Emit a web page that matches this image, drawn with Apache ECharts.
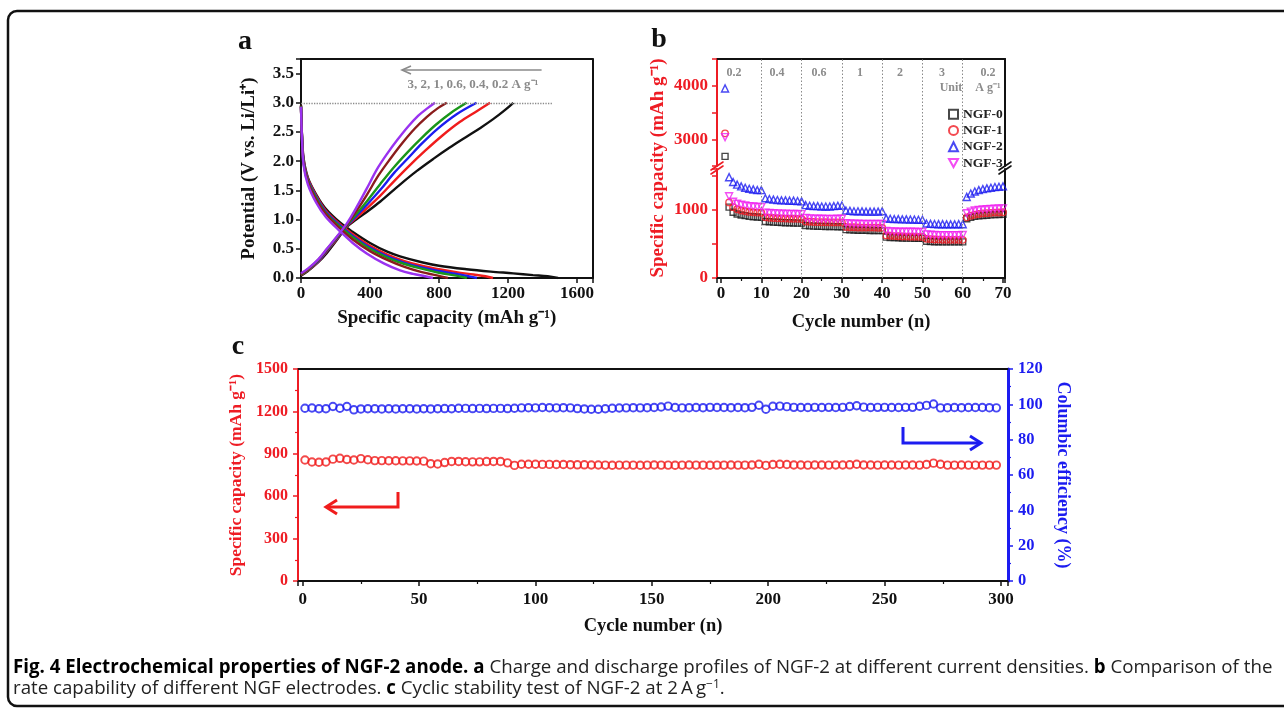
<!DOCTYPE html>
<html><head><meta charset="utf-8">
<script src="https://cdn.jsdelivr.net/npm/echarts@6/dist/echarts.min.js"></script>
<style>html,body{margin:0;padding:0;background:#fff}#c{width:1284px;height:715px}</style>
</head><body><div id="c"></div>
<script>
// ---------------- Panel a: charge / discharge profiles (capacity mAh/g, potential V) ----------------
const rateLabelsA = ['0.2', '0.4', '0.6', '1', '2', '3'];
const rateColorsA = ['#111111', '#f01c1c', '#1c1cf0', '#1a961a', '#8a1c1c', '#9a32f0'];
const charge_0_2 = [[0,0.04],[40,0.12],[100,0.27],[150,0.43],[200,0.62],[265,0.87],[320,1.0],[381,1.13],[460,1.31],[574,1.6],[670,1.83],[767,2.04],[860,2.23],[960,2.42],[1040,2.57],[1114,2.72],[1180,2.87],[1231,3.0]];
const charge_0_4 = [[0,0.05],[40,0.13],[100,0.28],[150,0.46],[200,0.64],[265,0.88],[320,1.03],[381,1.19],[460,1.41],[540,1.66],[620,1.9],[720,2.18],[820,2.44],[920,2.67],[1010,2.84],[1096,3.0]];
const charge_0_6 = [[0,0.06],[40,0.14],[100,0.29],[150,0.47],[200,0.65],[265,0.89],[320,1.06],[381,1.25],[460,1.51],[540,1.8],[620,2.05],[700,2.3],[790,2.55],[900,2.8],[1018,3.0]];
const charge_1 = [[0,0.06],[40,0.14],[100,0.3],[150,0.48],[200,0.66],[265,0.9],[320,1.09],[381,1.31],[460,1.61],[540,1.9],[620,2.16],[700,2.4],[780,2.62],[870,2.83],[960,3.0]];
const charge_2 = [[0,0.07],[40,0.15],[100,0.31],[150,0.49],[200,0.67],[265,0.91],[320,1.14],[381,1.42],[450,1.76],[520,2.05],[590,2.32],[660,2.56],[730,2.76],[790,2.9],[845,3.0]];
const charge_3 = [[0,0.08],[40,0.16],[100,0.32],[150,0.5],[200,0.68],[265,0.93],[320,1.2],[381,1.53],[440,1.86],[500,2.13],[560,2.37],[620,2.59],[680,2.78],[730,2.9],[777,3.0]];
const discharge_0_2 = [[0,2.96],[5,2.5],[15,2.05],[40,1.72],[90,1.42],[145,1.18],[226,0.95],[300,0.79],[400,0.6],[500,0.45],[574,0.37],[700,0.27],[800,0.21],[960,0.15],[1100,0.11],[1230,0.08],[1345,0.05],[1430,0.03],[1490,0.0]];
const discharge_0_4 = [[0,2.95],[5,2.48],[15,2.02],[40,1.7],[90,1.4],[145,1.15],[226,0.92],[300,0.75],[400,0.55],[500,0.4],[600,0.29],[700,0.21],[800,0.15],[900,0.1],[1000,0.06],[1070,0.03],[1113,0.0]];
const discharge_0_6 = [[0,2.94],[5,2.47],[15,2.0],[40,1.68],[90,1.38],[145,1.13],[226,0.9],[300,0.72],[400,0.52],[500,0.37],[600,0.26],[700,0.18],[800,0.12],[900,0.07],[970,0.03],[1020,0.0]];
const discharge_1 = [[0,2.94],[5,2.46],[15,1.98],[40,1.66],[90,1.36],[145,1.11],[226,0.88],[300,0.7],[400,0.5],[500,0.35],[600,0.24],[700,0.16],[800,0.09],[900,0.04],[962,0.0]];
const discharge_2 = [[0,2.93],[5,2.45],[15,1.96],[40,1.64],[90,1.33],[145,1.09],[226,0.85],[300,0.66],[400,0.46],[500,0.31],[600,0.19],[700,0.1],[780,0.05],[852,0.0]];
const discharge_3 = [[0,2.93],[5,2.43],[15,1.93],[40,1.6],[90,1.28],[145,1.04],[226,0.8],[300,0.6],[381,0.42],[480,0.25],[574,0.13],[650,0.07],[720,0.03],[765,0.0]];
const chargeCurvesA = [charge_0_2, charge_0_4, charge_0_6, charge_1, charge_2, charge_3];
const dischargeCurvesA = [discharge_0_2, discharge_0_4, discharge_0_6, discharge_1, discharge_2, discharge_3];
const cutoffVoltage = 3.0;
const cutoffLineEnd = 1460;
const xTicksA = [0, 400, 800, 1200, 1600];

// ---------------- Panel b: rate capability ----------------
const cycleB = Array.from({length: 70}, (_, i) => i + 1);
const ngf0 = [2680, 1040,965,940,925,915,905,900,895,890,
  830,825,820,818,815,812,810,808,806,805,
  770,765,762,760,758,756,755,754,752,752,
  710,706,704,702,700,700,698,698,696,696,
  600,595,592,590,588,586,585,584,583,582,
  540,535,533,532,531,530,530,530,530,530,
  870,890,905,912,918,922,926,930,932,935];
const ngf1 = [3110, 1110,1040,1010,990,980,970,965,960,958,
  890,885,880,878,875,872,870,870,868,866,
  830,825,822,820,818,818,816,816,816,816,
  750,746,744,742,740,740,740,740,738,738,
  625,620,615,612,610,608,606,605,604,603,
  575,570,566,564,562,560,560,560,560,560,
  890,915,930,940,948,952,956,960,962,965];
const ngf2 = [3950, 1480,1410,1370,1345,1325,1310,1300,1290,1290,
  1170,1160,1150,1145,1140,1140,1135,1135,1130,1125,
  1070,1060,1055,1055,1050,1050,1050,1055,1060,1065,
  990,985,980,980,978,975,975,975,975,980,
  875,870,865,865,860,860,858,858,855,855,
  800,795,792,790,790,788,788,788,790,790,
  1190,1240,1270,1290,1305,1315,1325,1335,1340,1345];
const ngf3 = [3040, 1200,1120,1090,1075,1065,1055,1050,1045,1040,
  960,955,950,948,945,945,942,940,940,938,
  880,875,872,870,870,868,868,868,870,870,
  805,800,798,796,795,795,795,795,795,795,
  690,685,682,680,680,678,678,678,676,676,
  640,635,632,630,630,630,630,630,630,632,
  950,975,990,1000,1005,1010,1015,1018,1020,1022];
const ngfNames = ['NGF-0', 'NGF-1', 'NGF-2', 'NGF-3'];
const ngfColors = ['#1a1a1a', '#f01c24', '#1c1cf0', '#f020f0'];
const stepBoundaries = [10, 20, 30, 40, 50, 60];
const rateStepLabels = ['0.2', '0.4', '0.6', '1', '2', '3', '0.2'];
const breakLow = 1600, breakHigh = 2500;

// ---------------- Panel c: cycling at 2 A/g ----------------
const cycleC = Array.from({length: 100}, (_, i) => 1 + 3 * i);
const capacityC = [856,842,840,842,862,868,860,856,866,858,
  852,852,851,851,850,850,849,848,830,828,
  838,846,846,844,843,843,845,846,846,836,
  818,826,826,826,825,825,824,824,823,822,
  822,821,821,820,819,820,820,820,819,820,
  821,820,820,819,820,821,820,820,819,820,
  820,821,820,820,821,826,818,824,826,824,
  821,821,820,821,821,820,821,821,822,826,
  821,821,820,821,821,820,821,821,820,824,
  834,826,820,820,821,820,820,820,820,820];
const efficiencyC = [97.8,97.9,97.5,97.5,98.8,97.8,98.8,96.9,97.4,97.5,
  97.5,97.4,97.5,97.4,97.5,97.5,97.4,97.5,97.4,97.5,
  97.6,97.5,97.8,97.7,97.6,97.7,97.6,97.7,97.7,97.6,
  97.8,98.0,98.1,98.0,98.2,98.1,98.0,98.1,98.0,97.6,
  97.4,97.2,97.2,97.5,97.8,97.9,98.0,98.1,98.0,98.1,
  98.2,98.5,99.0,98.2,98.0,98.1,98.2,98.1,98.3,98.2,
  98.2,98.1,98.2,98.1,98.3,99.5,97.2,98.9,99.0,98.7,
  98.3,98.2,98.2,98.3,98.2,98.3,98.2,98.3,98.8,99.2,
  98.4,98.2,98.3,98.3,98.2,98.2,98.3,98.3,98.9,99.4,
  100.2,98.0,98.1,98.2,98.1,98.2,98.2,98.2,98.1,98.0];

// ---------------- styles ----------------
const SERIF = 'Liberation Serif';
const RED = '#ee1c24', BLUE = '#1c1cf0', INK = '#111111', GRAYTXT = '#8c8c8c';
const lbl = (color, size, extra) => Object.assign({fontFamily: SERIF, fontWeight: 'bold', fontSize: size, color: color}, extra || {});
function frameAxis(grid, pos, color, width) {
  return {type: 'value', gridIndex: grid, position: pos, min: 0, max: 1,
    axisLine: {show: true, onZero: false, lineStyle: {color: color || INK, width: width || 2}},
    axisTick: {show: false}, axisLabel: {show: false}, splitLine: {show: false}};
}
const tick = (color) => ({show: true, inside: false, length: 5, lineStyle: {color: color, width: 1.5}});
const minor = (color, n) => ({show: true, splitNumber: n, length: 3, lineStyle: {color: color, width: 1.2}});

const xAxis = [
  {type: 'value', gridIndex: 0, min: 0, max: 1690, interval: 400,
   axisLine: {onZero: false, lineStyle: {color: INK, width: 2}}, axisTick: tick(INK),
   axisLabel: lbl(INK, 17, {margin: 7, formatter: v => xTicksA.includes(v) ? String(v) : ''}),
   splitLine: {show: false},
   name: 'Specific capacity (mAh g\u207B\u00B9)', nameLocation: 'middle', nameGap: 31, nameTextStyle: lbl(INK, 19)},
  frameAxis(0, 'top'),
  {type: 'value', gridIndex: 1, min: -1, max: 70.5, show: false, splitLine: {show: false}},
  frameAxis(1, 'top'),
  {type: 'value', gridIndex: 2, min: -1, max: 70.5, splitNumber: 7,
   axisLine: {onZero: false, lineStyle: {color: INK, width: 2}}, axisTick: tick(INK), minorTick: minor(INK, 2),
   axisLabel: lbl(INK, 17, {margin: 7, formatter: v => (v >= 0 && v % 10 === 0) ? String(v) : ''}),
   splitLine: {show: false},
   name: 'Cycle number (n)', nameLocation: 'middle', nameGap: 35, nameTextStyle: lbl(INK, 18.5)},
  {type: 'value', gridIndex: 3, min: -2, max: 303, splitNumber: 6,
   axisLine: {onZero: false, lineStyle: {color: INK, width: 2}}, axisTick: tick(INK), minorTick: minor(INK, 2),
   axisLabel: lbl(INK, 17, {margin: 10, formatter: v => (v >= 0 && v % 50 === 0) ? String(v) : ''}),
   splitLine: {show: false},
   name: 'Cycle number (n)', nameLocation: 'middle', nameGap: 36, nameTextStyle: lbl(INK, 18.5)},
  frameAxis(3, 'top')
];

const yAxis = [
  {type: 'value', gridIndex: 0, min: 0, max: 3.75, interval: 0.5,
   axisLine: {onZero: false, lineStyle: {color: INK, width: 2}}, axisTick: tick(INK),
   axisLabel: lbl(INK, 17, {margin: 7, formatter: v => (Math.abs(v * 2 - Math.round(v * 2)) < 1e-6) ? v.toFixed(1) : ''}),
   splitLine: {show: false},
   name: 'Potential (V vs. Li/Li\u207A)', nameLocation: 'middle', nameGap: 42, nameTextStyle: lbl(INK, 19)},
  frameAxis(0, 'right'),
  {type: 'value', gridIndex: 1, min: breakHigh, max: 4500, interval: 500,
   axisLine: {onZero: false, lineStyle: {color: RED, width: 2}}, axisTick: tick(RED),
   axisLabel: lbl(RED, 17, {margin: 9, formatter: v => (v % 1000 === 0) ? String(v) : ''}),
   splitLine: {show: false}},
  frameAxis(1, 'right'),
  {type: 'value', gridIndex: 2, min: 0, max: breakLow, interval: 500,
   axisLine: {onZero: false, lineStyle: {color: RED, width: 2}}, axisTick: tick(RED),
   axisLabel: lbl(RED, 17, {margin: 9, formatter: v => (v % 1000 === 0) ? String(v) : ''}),
   splitLine: {show: false}},
  frameAxis(2, 'right'),
  {type: 'value', gridIndex: 3, min: 0, max: 1500, interval: 300,
   axisLine: {onZero: false, lineStyle: {color: RED, width: 2}}, axisTick: tick(RED), minorTick: minor(RED, 2),
   axisLabel: lbl(RED, 16, {margin: 10, formatter: v => String(v)}), splitLine: {show: false},
   name: 'Specific capacity (mAh g\u207B\u00B9)', nameLocation: 'middle', nameGap: 51, nameTextStyle: lbl(RED, 17.5)},
  {type: 'value', gridIndex: 3, position: 'right', min: 0, max: 120, interval: 20,
   axisLine: {onZero: false, lineStyle: {color: BLUE, width: 3}}, axisTick: tick(BLUE), minorTick: minor(BLUE, 2),
   axisLabel: lbl(BLUE, 16.5, {margin: 10, formatter: v => String(v)}), splitLine: {show: false},
   name: 'Columbic efficiency (%)', nameLocation: 'middle', nameGap: 45, nameRotate: -90, nameTextStyle: lbl(BLUE, 18)}
];

const series = [];
rateLabelsA.forEach((r, i) => {
  series.push({type: 'line', name: 'discharge ' + r, xAxisIndex: 0, yAxisIndex: 0, data: dischargeCurvesA[i],
    showSymbol: false, smooth: 0.35, lineStyle: {color: rateColorsA[i], width: 2.4}, itemStyle: {color: rateColorsA[i]}, z: 3});
  const s = {type: 'line', name: 'charge ' + r, xAxisIndex: 0, yAxisIndex: 0, data: chargeCurvesA[i],
    showSymbol: false, smooth: 0.35, lineStyle: {color: rateColorsA[i], width: 2.4}, itemStyle: {color: rateColorsA[i]}, z: 3};
  if (i === 0) {
    s.markLine = {silent: true, symbol: 'none', label: {show: false},
      lineStyle: {type: 'dotted', color: '#8a8a8a', width: 1.3},
      data: [[{coord: [0, cutoffVoltage]}, {coord: [cutoffLineEnd, cutoffVoltage]}]]};
  }
  series.push(s);
});
const ngfValues = [ngf0, ngf1, ngf2, ngf3];
const ngfSymbols = ['rect', 'circle', 'triangle', 'path://M0,0L10,0L5,9Z'];
const ngfSizes = [6, 6.5, 7, 7];
ngfNames.forEach((nm, k) => {
  const vals = ngfValues[k];
  const lower = cycleB.map((c, i) => vals[i] <= breakLow ? [c, vals[i]] : null).filter(Boolean);
  const upper = cycleB.map((c, i) => vals[i] >= breakHigh ? [c, vals[i]] : null).filter(Boolean);
  const common = {type: 'scatter', name: nm, symbol: ngfSymbols[k], symbolSize: ngfSizes[k],
    itemStyle: {color: 'rgba(255,255,255,0)', borderColor: ngfColors[k], borderWidth: 1.4}, z: 4};
  const lo = Object.assign({}, common, {xAxisIndex: 4, yAxisIndex: 4, data: lower});
  const up = Object.assign({}, common, {xAxisIndex: 2, yAxisIndex: 2, data: upper});
  if (k === 0) {
    const ml = {silent: true, symbol: 'none', label: {show: false},
      lineStyle: {type: [1.5, 2], color: '#8a8a8a', width: 1},
      data: stepBoundaries.map(b => ({xAxis: b}))};
    lo.markLine = ml; up.markLine = JSON.parse(JSON.stringify(ml));
  }
  series.push(lo, up);
});
series.push({type: 'scatter', name: 'capacity', xAxisIndex: 5, yAxisIndex: 6,
  data: cycleC.map((c, i) => [c, capacityC[i]]), symbol: 'circle', symbolSize: 7.5,
  itemStyle: {color: 'rgba(255,255,255,0)', borderColor: '#f01c1c', borderWidth: 1.9}});
series.push({type: 'scatter', name: 'efficiency', xAxisIndex: 5, yAxisIndex: 7,
  data: cycleC.map((c, i) => [c, efficiencyC[i]]), symbol: 'circle', symbolSize: 7.5,
  itemStyle: {color: 'rgba(255,255,255,0)', borderColor: '#1c1cf0', borderWidth: 1.9}});

const serifFont = (size) => ({fontFamily: SERIF, fontWeight: 'bold', fontSize: size});
function txt(x, y, text, color, size, align, rot) {
  return {type: 'text', x: x, y: y, rotation: rot || 0, z: 10,
    style: Object.assign({text: text, fill: color, align: align || 'center', verticalAlign: 'middle',
      textAlign: align || 'center', textVerticalAlign: 'middle'}, serifFont(size))};
}
function seg(x1, y1, x2, y2, color, w) {
  return {type: 'line', z: 10, shape: {x1: x1, y1: y1, x2: x2, y2: y2}, style: {stroke: color, lineWidth: w, lineCap: 'round'}};
}
function poly(points, color, w) {
  return {type: 'polyline', z: 10, shape: {points: points}, style: {stroke: color, lineWidth: w, fill: null, lineJoin: 'miter'}};
}
const rateLabelX = [734, 777, 819, 860, 900, 942, 988];
const CAP = 18.7;
const graphic = [
  {type: 'rect', z: 0, shape: {x: 8, y: 11, width: 1300, height: 695, r: 9}, style: {stroke: '#111', lineWidth: 2.5, fill: null}},
  txt(245, 42, 'a', '#111', 28),
  txt(659, 40, 'b', '#111', 28),
  txt(238, 347, 'c', '#111', 28),
  seg(541, 70, 403, 70, '#8a8a8a', 1.6),
  poly([[411, 66], [402, 70], [411, 74]], '#8a8a8a', 1.6),
  txt(473, 85, '3, 2, 1, 0.6, 0.4, 0.2 A g\u207B\u00B9', '#8a8a8a', 13),
  txt(658, 168, 'Specific capacity (mAh g\u207B\u00B9)', RED, 19, 'center', Math.PI / 2),
  seg(711, 170, 723, 162, RED, 1.6), seg(711, 174, 723, 166, RED, 1.6),
  seg(999, 170, 1011, 162, INK, 1.6), seg(999, 174, 1011, 166, INK, 1.6),
  txt(951, 87.5, 'Unit', GRAYTXT, 12),
  txt(988, 87.5, 'A g\u207B\u00B9', GRAYTXT, 12),
  poly([[398, 492], [398, 507], [327, 507]], '#f01c1c', 3),
  poly([[337, 500], [326, 507], [337, 514]], '#f01c1c', 3),
  poly([[903, 427], [903, 443], [980, 443]], BLUE, 3),
  poly([[970, 436], [981, 443], [970, 450]], BLUE, 3),
  {type: 'text', x: 13, y: 668, z: 10, style: {
    text: '{b|Fig. 4 Electrochemical properties of NGF-2 anode. a }{n|Charge and discharge profiles of NGF-2 at different current densities. }{b|b }{n|Comparison of the}',
    verticalAlign: 'middle', textVerticalAlign: 'middle', align: 'left', textAlign: 'left',
    rich: {b: {fontFamily: 'Open Sans', fontWeight: 'bold', fontSize: CAP, fill: '#000', color: '#000'},
           n: {fontFamily: 'Open Sans', fontSize: CAP, fill: '#222', color: '#222'}}}},
  {type: 'text', x: 13, y: 689, z: 10, style: {
    text: '{n|rate capability of different NGF electrodes. }{b|c }{n|Cyclic stability test of NGF-2 at 2\u2009A\u2009g}{s|\u22121}{n|.}',
    verticalAlign: 'middle', textVerticalAlign: 'middle', align: 'left', textAlign: 'left',
    rich: {b: {fontFamily: 'Open Sans', fontWeight: 'bold', fontSize: CAP, fill: '#000', color: '#000'},
           n: {fontFamily: 'Open Sans', fontSize: CAP, fill: '#222', color: '#222'},
           s: {fontFamily: 'Open Sans', fontSize: 12, fill: '#222', color: '#222', verticalAlign: 'top', padding: [0, 0, 8, 0]}}}}
];
rateStepLabels.forEach((t, i) => graphic.push(txt(rateLabelX[i], 72.5, t, GRAYTXT, 12)));

const chart = echarts.init(document.getElementById('c'), null, {renderer: 'canvas'});
chart.setOption({
  animation: false,
  backgroundColor: '#ffffff',
  grid: [
    {left: 301, top: 59, width: 291.5, height: 219},
    {left: 717, top: 59, width: 288, height: 107},
    {left: 717, top: 169, width: 288, height: 109},
    {left: 298, top: 369, width: 710, height: 212}
  ],
  legend: {data: ngfNames, orient: 'vertical', left: 943, top: 102, itemWidth: 9, itemHeight: 9, itemGap: 2,
    textStyle: {fontFamily: SERIF, fontWeight: 'bold', fontSize: 13.5, color: '#222', lineHeight: 14.3}},
  xAxis: xAxis,
  yAxis: yAxis,
  series: series,
  graphic: graphic
});
</script></body></html>
